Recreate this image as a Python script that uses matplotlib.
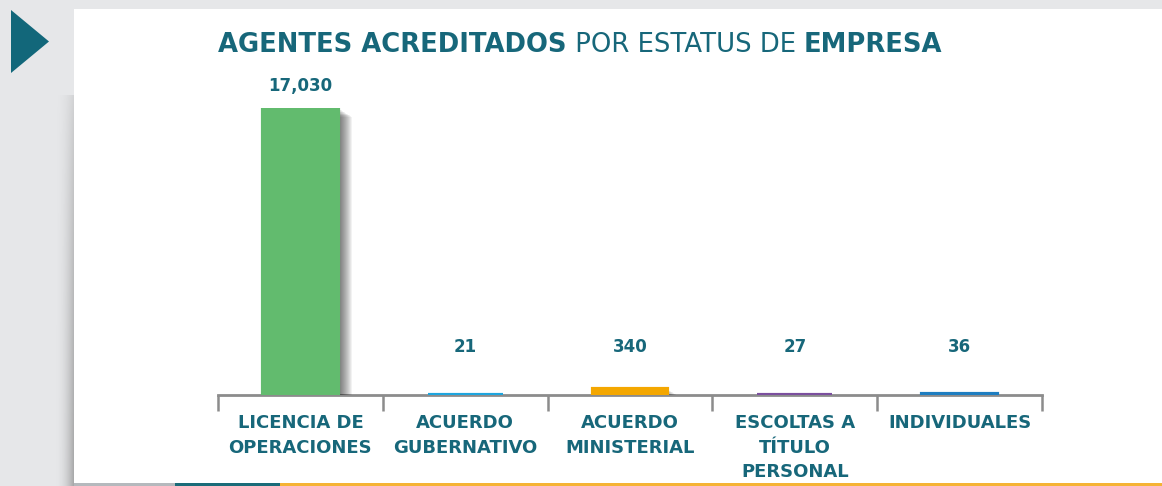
#!/usr/bin/env python3
# -*- coding: utf-8 -*-
"""
Agentes acreditados por estatus de empresa
"""
import matplotlib
matplotlib.use('Agg')  # sin pantalla
import matplotlib.pyplot as plt
import matplotlib.patheffects as pe
from matplotlib.patches import Rectangle, Polygon
import numpy as np

# datos
categorias = ['LICENCIA DE\nOPERACIONES', 'ACUERDO\nGUBERNATIVO', 'ACUERDO\nMINISTERIAL',
              'ESCOLTAS A\nTÍTULO\nPERSONAL', 'INDIVIDUALES']
agentes = [17030, 21, 340, 27, 36]
etiquetas = ['17,030', '21', '340', '27', '36']
colores = ['#62bb6e', '#1ea5de', '#f4a700', '#7b4f9e', '#1e7ec1']

TEAL = '#17677a'
FUENTE = ['DejaVu Sans']
W, H = 1162, 486

fig = plt.figure(figsize=(W / 100, H / 100), dpi=100)
fig.patch.set_facecolor('#e6e7e9')

# panel blanco
fig.patches.append(Rectangle((74 / W, 0), 1, 1 - 9 / H, transform=fig.transFigure,
                             facecolor='white', edgecolor='none', zorder=-2))

# sombra a la izquierda del panel
ax_sh = fig.add_axes([54 / W, 0, 20 / W, 1 - 95 / H])
ax_sh.axis('off')
gx = np.linspace(0, 1, 40) ** 2.2
gy = np.linspace(0, 1, 200)[:, None] ** 0.7
grad = np.zeros((200, 40, 4))
grad[..., :3] = 0.45
grad[..., 3] = 0.55 * gx[None, :] * (0.3 + 0.7 * gy)
ax_sh.imshow(grad, aspect='auto', extent=(0, 1, 0, 1), interpolation='bilinear')

# línea inferior
for x0, x1, c in [(74, 175, '#b5b9bd'), (175, 280, '#1a6b78'), (280, W, '#f5b335')]:
    fig.patches.append(Rectangle((x0 / W, 0), (x1 - x0) / W, 3 / H, transform=fig.transFigure,
                                 facecolor=c, edgecolor='none', zorder=2))

# triángulo
tri = [(11, 10), (11, 73), (49, 41.5)]
fig.patches.append(Polygon([(x / W, 1 - y / H) for x, y in tri], closed=True,
                           transform=fig.transFigure, facecolor='#12677a', edgecolor='none'))

# título en partes
renderer = fig.canvas.get_renderer()
partes = [('AGENTES ACREDITADOS', 'bold'), (' POR ESTATUS DE ', 'normal'), ('EMPRESA', 'bold')]
x = 218 / W
for txt, peso in partes:
    t = fig.text(x, 1 - 52 / H, txt, fontsize=18.6, fontweight=peso, color=TEAL,
                 family=FUENTE, ha='left', va='baseline')
    x += t.get_window_extent(renderer).width / W

# gráfico
ax = fig.add_axes([218 / W, 91 / H, 824 / W, 287 / H])
ax.set_facecolor('none')
pos = np.arange(len(agentes))
sombra = [pe.SimplePatchShadow(offset=(0.75 * i, -0.45 * i), shadow_rgbFace='k', alpha=0.05)
          for i in range(1, 15)]
ax.bar(pos, agentes, width=0.455, color=colores, edgecolor=colores, linewidth=3,
       zorder=2, path_effects=sombra + [pe.Normal()])

for i, (v, lab) in enumerate(zip(agentes, etiquetas)):
    ax.annotate(lab, xy=(i, max(v, 1500)), xytext=(0, 16), textcoords='offset points',
                ha='center', va='center', fontsize=12, fontweight='bold', color=TEAL,
                family=FUENTE, annotation_clip=False)

ax.set_xlim(-0.5, len(agentes) - 0.5)
ax.set_ylim(0, max(agentes))
for s in ['top', 'right', 'left']:
    ax.spines[s].set_visible(False)
ax.spines['bottom'].set_color('#8c8c8c')
ax.spines['bottom'].set_linewidth(2)
ax.spines['bottom'].set_zorder(1.5)
ax.set_yticks([])
ax.set_xticks(pos)
ax.set_xticklabels(categorias, fontsize=13, fontweight='bold', color=TEAL,
                   family=FUENTE, linespacing=1.45)
ax.set_xticks(np.arange(-0.5, len(agentes)), minor=True)
ax.tick_params(axis='x', which='major', length=0, pad=14)
ax.tick_params(axis='x', which='minor', length=11.5, width=1.8, color='#8c8c8c', direction='out')

fig.savefig('out.png', dpi=100, facecolor=fig.get_facecolor())
plt.close()
